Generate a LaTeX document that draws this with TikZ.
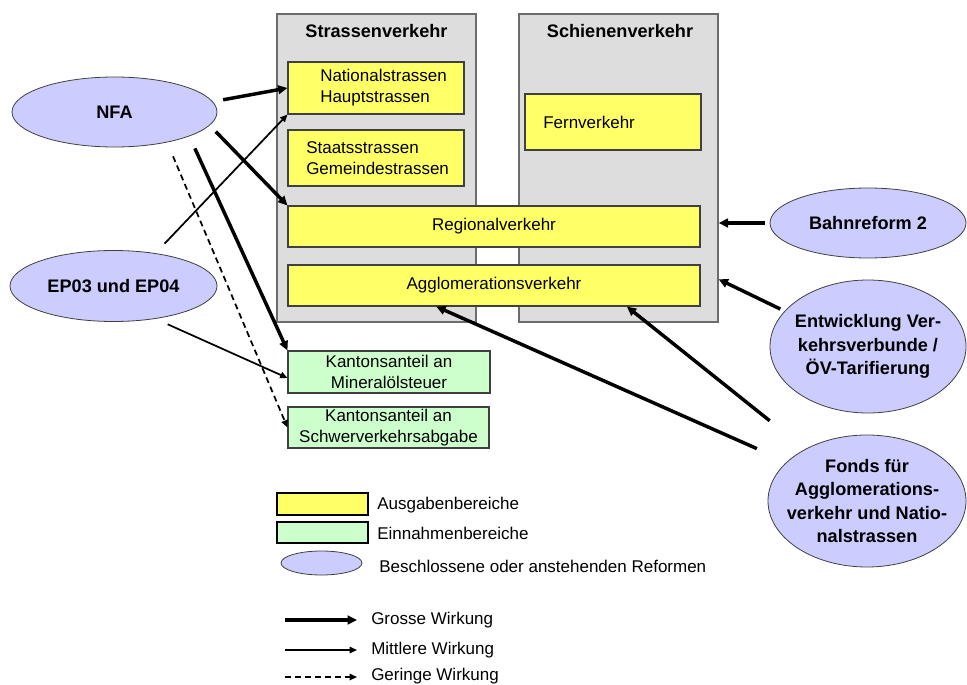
\documentclass[tikz,border=0pt]{standalone}
\usepackage{fontspec}
\setmainfont{Liberation Sans}
\usetikzlibrary{arrows.meta,shapes.geometric,fit,calc}
\definecolor{panelgray}{HTML}{DDDDDD}
\definecolor{spendyellow}{HTML}{FFFF66}
\definecolor{incomegreen}{HTML}{CCFFCC}
\definecolor{reformblue}{HTML}{CCCCFF}
\definecolor{edgegray}{HTML}{404040}

\begin{document}
\begin{tikzpicture}[x=0.75pt,y=-0.75pt,
  panel/.style={draw=gray!85!black, line width=1pt, fill=panelgray, inner sep=0pt},
  spend/.style={draw=edgegray, line width=0.8pt, fill=spendyellow, inner sep=0pt},
  income/.style={draw=edgegray, line width=0.8pt, fill=incomegreen, inner sep=0pt},
  reform/.style={ellipse, draw=edgegray, line width=0.6pt, fill=reformblue, inner sep=0pt},
  reg/.style={font=\fontsize{12.75}{15.75}\selectfont, inner sep=0pt},
  hd/.style={font=\bfseries\fontsize{13.6}{17.6}\selectfont, inner sep=0pt, align=center},
  big/.style={line width=2.6pt, -{Triangle[length=7pt,width=6.5pt]}},
  mid/.style={line width=1.3pt, -{Triangle[length=5.5pt,width=4.8pt]}},
  weak/.style={mid, dash pattern=on 4.5pt off 3pt}]

\useasboundingbox (0,0) rectangle (967,685);

% the two traffic panels
\node[panel, fit={(277,14)(476,322)}] (road) {};
\node[panel, fit={(519,14)(718,322)}] (rail) {};
\node[hd] (roadtitle) at (376.5,31) {Strassenverkehr};
\node[hd] (railtitle) at (620,31) {Schienenverkehr};

% spending areas
\node[spend, fit={(288,62)(464,114)}] (nat) {};
\node[reg, anchor=west, align=left] (nattxt) at (320,88) {Nationalstrassen\\Hauptstrassen};
\node[spend, fit={(288,130)(464,186)}] (staat) {};
\node[reg, anchor=west, align=left] (staattxt) at (306,158) {Staatsstrassen\\Gemeindestrassen};
\node[spend, fit={(525,94)(701,150)}] (fern) {};
\node[reg, anchor=west] (ferntxt) at (543,122) {Fernverkehr};
\node[spend, fit={(288,206)(700,247)}] (regio) {};
\node[reg] (regiotxt) at (regio) {Regionalverkehr};
\node[spend, fit={(288,265)(700,306)}] (agglo) {};
\node[reg] (agglotxt) at (agglo) {Agglomerationsverkehr};

% revenue areas
\node[income, fit={(288,351)(490,393)}] (minoel) {};
\node[reg, align=center] (minoeltxt) at (minoel) {Kantonsanteil an\\Mineralölsteuer};
\node[income, fit={(288,407)(489,448)}] (lsva) {};
\node[reg, align=center] (lsvatxt) at (lsva) {Kantonsanteil an\\Schwerverkehrsabgabe};

% reforms
\node[reform, minimum width=153.75pt, minimum height=52.5pt,
      label={[hd]center:NFA}] (nfa) at (114.5,112) {};
\node[reform, minimum width=155.25pt, minimum height=53.25pt,
      label={[hd]center:EP03 und EP04}] (ep) at (113.5,286) {};
\node[reform, minimum width=147pt, minimum height=52.5pt,
      label={[hd]center:Bahnreform 2}] (bahn) at (868,223) {};
\node[reform, minimum width=147pt, minimum height=99.75pt,
      label={[hd]center:{Entwicklung Ver-\\kehrsverbunde /\\ÖV-Tarifierung}}] (verbund) at (868,346.5) {};
\node[reform, minimum width=148.5pt, minimum height=99pt,
      label={[hd]center:{Fonds für\\Agglomerations-\\verkehr und Natio-\\nalstrassen}}] (fonds) at (867,501) {};

% effects
\draw[big, shorten <=7.8pt] (nfa.6) -- (nat.west);
\draw[mid, shorten <=9.8pt] (ep.38) -- (nat.south west);
\draw[big, shorten <=6.5pt] (nfa.-8) -- (regio.north west);
\draw[big, shorten <=10pt] (nfa.-18) -- (minoel.north west);
\draw[weak, shorten <=11.3pt] (nfa.-30) -- (lsva.west);
\draw[mid, shorten <=10pt] (ep.-38) -- ($(minoel.west)+(0,6)$);
\draw[big, shorten <=3.75pt] (bahn.west) -- (rail.east |- bahn.west);
\draw[big, shorten <=3.5pt] (verbund.157) -- (rail.-48);
\draw[big, shorten <=34pt] (fonds.140) -- (agglo.-9);
\draw[big, shorten <=24.5pt] (fonds.154) -- (agglo.200);

% legend
\node[spend, draw=black, line width=1.5pt, fit={(277,493)(368,515)}] (keyspend) {};
\node[reg, anchor=west] (keyspendtxt) at (377,505) {Ausgabenbereiche};
\node[income, draw=black, line width=1.5pt, fit={(277,522)(368,543)}] (keyincome) {};
\node[reg, anchor=west] (keyincometxt) at (377,533) {Einnahmenbereiche};
\node[reform, minimum width=60.75pt, minimum height=18pt] (keyreform) at (321.5,563) {};
\node[reg, anchor=west] (keyreformtxt) at (379,566) {Beschlossene oder anstehenden Reformen};

\coordinate (kbigA) at (285,620);
\coordinate (kbigB) at (357,620);
\coordinate (kmidA) at (285,650);
\coordinate (kmidB) at (357,650);
\coordinate (kweakA) at (285,677);
\coordinate (kweakB) at (357,677);
\draw[big] (kbigA) -- (kbigB);
\draw[mid] (kmidA) -- (kmidB);
\draw[weak] (kweakA) -- (kweakB);
\node[reg, anchor=west] (kbigtxt) at (371,620) {Grosse Wirkung};
\node[reg, anchor=west] (kmidtxt) at (371,650) {Mittlere Wirkung};
\node[reg, anchor=west] (kweaktxt) at (371,676) {Geringe Wirkung};
\end{tikzpicture}
\end{document}
